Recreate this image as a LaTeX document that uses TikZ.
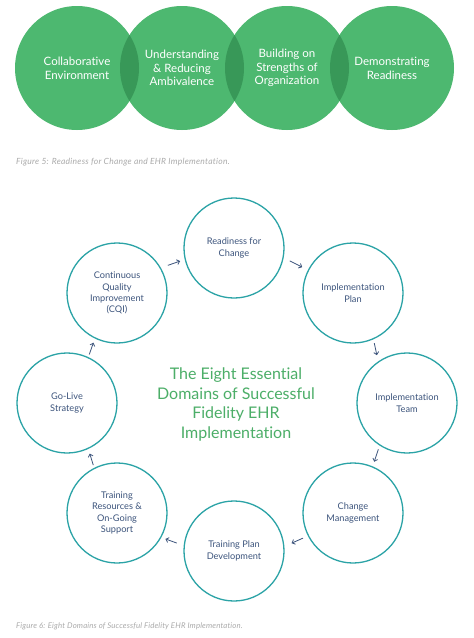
\documentclass[tikz,border=0pt]{standalone}
\usepackage{fontspec}
\setmainfont{Lato}[Ligatures={NoCommon}]
\newfontfamily\capfontA{Lato}[Ligatures={NoCommon}, LetterSpace=3]
\newfontfamily\capfontB{Lato}[Ligatures={NoCommon}, LetterSpace=2]
\usetikzlibrary{arrows.meta}

\definecolor{leaf}{RGB}{77,184,112}
\definecolor{leafdark}{RGB}{56,152,88}
\definecolor{ringteal}{RGB}{43,163,166}
\definecolor{slate}{RGB}{60,84,124}
\definecolor{capgray}{RGB}{170,170,170}
\definecolor{titlegreen}{RGB}{76,174,104}

\begin{document}
\begin{tikzpicture}[x=1pt,y=-1pt,
  green disc/.style={circle, fill=leaf, minimum size=124pt, inner sep=0pt,
    outer sep=0pt, text=white, align=center,
    font=\fontsize{11.5}{13.8}\selectfont},
  ring disc/.style={circle, draw=ringteal, line width=1.3pt, minimum size=100pt,
    inner sep=0pt, outer sep=0pt, text=slate, align=center,
    font=\fontsize{9.2}{11.3}\selectfont},
  flow/.style={draw=slate, line width=0.8pt,
    -{Straight Barb[length=2.6pt,width=5pt]}},
  caption/.style={anchor=west, inner sep=0pt, text=capgray},
  heading/.style={text=titlegreen, align=center,
    font=\fontsize{16}{19.7}\selectfont},
]
\fill[white] (0,0) rectangle (474,638);
\useasboundingbox (0,0) rectangle (474,638);

% ---- Figure 5: four overlapping discs ----
\node[green disc] (g1) at (77,68)  {};
\node[green disc] (g2) at (182,68) {};
\node[green disc] (g3) at (287,68) {};
\node[green disc] (g4) at (392,68) {};
% darker lenses where neighbouring discs overlap
\foreach \a/\b in {g1/g2, g2/g3, g3/g4}{
  \begin{scope}
    \clip (\a.center) circle (62pt);
    \fill[leafdark] (\b.center) circle (62pt);
  \end{scope}
}
\node[green disc, fill=none] at (g1) {Collaborative\\Environment};
\node[green disc, fill=none] at (g2) {Understanding\\\& Reducing\\Ambivalence};
\node[green disc, fill=none] at (g3) {Building on\\Strengths of\\Organization};
\node[green disc, fill=none] at (g4) {Demonstrating\\Readiness};

\node[caption, font=\capfontA\fontsize{8.5}{9}\selectfont\itshape] (cap5)
  at (16,162) {Figure 5: Readiness for Change and EHR Implementation.};

% ---- Figure 6: ring of eight domains ----
\node[ring disc] (rfc)    at (234,248) {Readiness for\\Change};
\node[ring disc] (plan)   at (353,293) {Implementation\\Plan};
\node[ring disc] (team)   at (407,403) {Implementation\\Team};
\node[ring disc] (chg)    at (353,513) {Change\\Management};
\node[ring disc] (tpd)    at (234,551) {Training Plan\\Development};
\node[ring disc] (trs)    at (117,513) {Training\\Resources \&\\On-Going\\Support};
\node[ring disc] (golive) at (67,403)  {Go-Live\\Strategy};
\node[ring disc] (cqi)    at (117,293) {Continuous\\Quality\\Improvement\\(CQI)};

\node[heading] (title) at (236,404.5)
  {The Eight Essential\\Domains of Successful\\Fidelity EHR\\Implementation};

\draw[flow, shorten <=8pt, shorten >=5.5pt] (cqi.30)    -- (rfc.193);
\draw[flow, shorten <=7.5pt, shorten >=7pt] (rfc.349)   -- (plan.153);
\draw[flow, shorten <=4.5pt, shorten >=7pt] (plan.294)  -- (team.125);
\draw[flow, shorten <=4.5pt, shorten >=5.5pt] (team.237) -- (chg.67);
\draw[flow, shorten <=6pt, shorten >=8.5pt] (chg.207)   -- (tpd.5);
\draw[flow, shorten <=8pt, shorten >=5pt] (tpd.174)     -- (trs.331);
\draw[flow, shorten <=3.5pt, shorten >=5.5pt] (trs.117) -- (golive.295);
\draw[flow, shorten <=3.5pt, shorten >=5pt] (golive.65) -- (cqi.244);

\node[caption, font=\capfontB\fontsize{7.8}{9}\selectfont\itshape] (cap6)
  at (16,626) {Figure 6: Eight Domains of Successful Fidelity EHR Implementation.};
\end{tikzpicture}
\end{document}
